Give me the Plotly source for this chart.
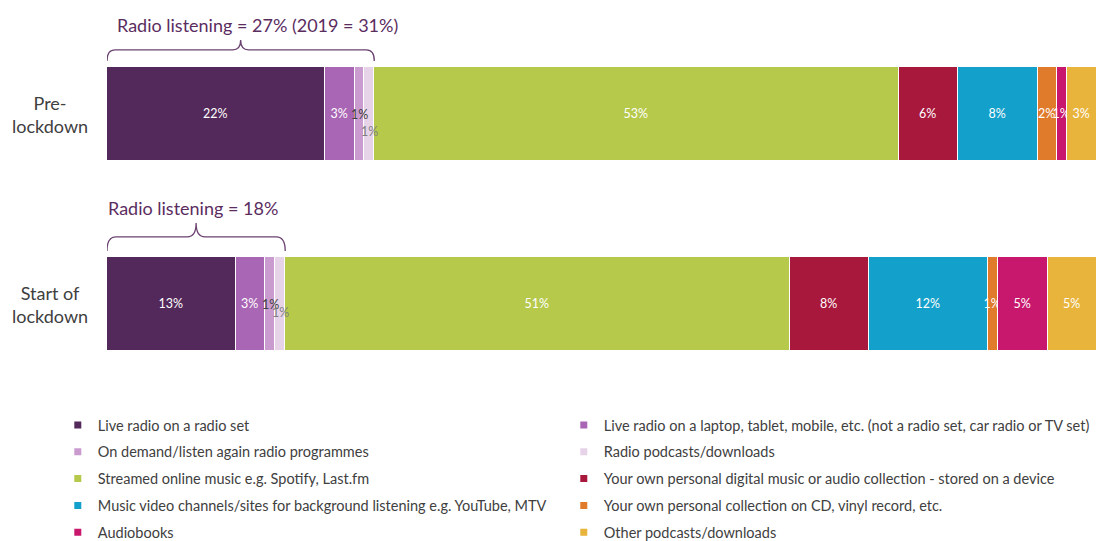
import plotly.graph_objects as go

# ---------------- data ----------------
row_labels = ["Pre-<br>lockdown", "Start of<br>lockdown"]
series = [
    "Live radio on a radio set",
    "Live radio on a laptop, tablet, mobile, etc. (not a radio set, car radio or TV set)",
    "On demand/listen again radio programmes",
    "Radio podcasts/downloads",
    "Streamed online music e.g. Spotify, Last.fm",
    "Your own personal digital music or audio collection - stored on a device",
    "Music video channels/sites for background listening e.g. YouTube, MTV",
    "Your own personal collection on CD, vinyl record, etc.",
    "Audiobooks",
    "Other podcasts/downloads",
]
pre_lockdown = [22, 3, 1, 1, 53, 6, 8, 2, 1, 3]
start_lockdown = [13, 3, 1, 1, 51, 8, 12, 1, 5, 5]
radio_titles = ["Radio listening = 27% (2019 = 31%)", "Radio listening = 18%"]
n_radio = 4  # first four series are radio

# ---------------- style ----------------
colors = ["#53295b", "#a966b5", "#c99bcf", "#e6d3e8", "#b6c94b",
          "#a8173c", "#13a0ca", "#e07b2b", "#c8186e", "#e8b43c"]
label_colors = ["white", "white", "#404040", "#7f7f7f", "white",
                "white", "white", "white", "white", "white"]
FONT = "Lato, 'Open Sans', sans-serif"
PURPLE = "#5b2d5f"
GREY = "#404040"
overlay_labels = {2: [0, 0], 3: [-17, -8]}  # series index -> vertical shift per row
title_x = [15.2, 8.7]
title_shift = [15, 15]
brace_end = [-0.279, -0.279]
brace_line = [-0.337, -0.353]
brace_cusp = [-0.389, -0.426]
brace_r = [0.8, 0.9]

rows = [0, 1]
fig = go.Figure()
for i, name in enumerate(series):
    vals = [pre_lockdown[i], start_lockdown[i]]
    fig.add_trace(go.Bar(
        x=vals, y=rows, orientation="h", name=name,
        marker=dict(color=colors[i], line=dict(color="white", width=1.5)),
        width=0.49,
        texttemplate="%{x}%",
        textposition="none" if i in overlay_labels else "inside",
        insidetextanchor="middle",
        textangle=0,
        constraintext="none",
        textfont=dict(family=FONT, size=12.5, color=label_colors[i]),
        showlegend=False,
        hoverinfo="skip",
    ))

# legend entries (small square keys, two columns)
for i, name in enumerate(series):
    fig.add_trace(go.Scatter(
        x=[None], y=[None], mode="markers", name=name,
        marker=dict(symbol="square", size=7, color=colors[i]),
        legend="legend" if i % 2 == 0 else "legend2",
        legendgroup="g%d" % i,
        hoverinfo="skip",
    ))

annotations = []
shapes = []
for r, vals in enumerate([pre_lockdown, start_lockdown]):
    # row label
    annotations.append(dict(
        xref="paper", yref="y", x=-0.0576, y=r, text=row_labels[r],
        showarrow=False, xanchor="center", yanchor="middle", align="center",
        font=dict(family=FONT, size=18, color=GREY)))
    # labels of the narrow radio segments, drawn on top of neighbours
    for i, shifts in overlay_labels.items():
        start = sum(vals[:i])
        annotations.append(dict(
            xref="x", yref="y", x=start + vals[i] / 2, y=r, text="%d%%" % vals[i],
            showarrow=False, yshift=shifts[r],
            font=dict(family=FONT, size=12.5, color=label_colors[i])))
    # brace
    x0 = 0
    x1 = sum(vals[:n_radio])
    xm = (x0 + x1) / 2
    ye, yl, yc, rr = r + brace_end[r], r + brace_line[r], r + brace_cusp[r], brace_r[r]
    path = (f"M {x0},{ye} Q {x0},{yl} {x0 + rr},{yl} L {xm - rr},{yl} "
            f"Q {xm},{yl} {xm},{yc} Q {xm},{yl} {xm + rr},{yl} "
            f"L {x1 - rr},{yl} Q {x1},{yl} {x1},{ye}")
    shapes.append(dict(type="path", xref="x", yref="y", path=path,
                       line=dict(color="#6b4270", width=1.3)))
    annotations.append(dict(
        xref="x", yref="y", x=title_x[r], y=r + brace_cusp[r], yshift=title_shift[r],
        text=radio_titles[r], showarrow=False, xanchor="center", yanchor="middle",
        font=dict(family=FONT, size=18, color=PURPLE)))

legend_common = dict(orientation="v", xanchor="left", y=-0.0263, yanchor="top",
                     traceorder="grouped", tracegroupgap=5,
                     font=dict(family=FONT, size=14.5, color=GREY),
                     bgcolor="rgba(0,0,0,0)")

fig.update_layout(
    width=1098, height=541,
    margin=dict(l=107, r=1, t=19, b=142, autoexpand=False),
    plot_bgcolor="white", paper_bgcolor="white",
    barmode="stack",
    bargap=0,
    xaxis=dict(range=[0, 100], visible=False, fixedrange=True),
    yaxis=dict(range=[1.5, -0.5], visible=False, fixedrange=True),
    annotations=annotations,
    shapes=shapes,
    showlegend=True,
    legend=dict(x=-0.0497, **legend_common),
    legend2=dict(x=0.4614, **legend_common),
    font=dict(family=FONT),
)

fig.write_html(
    "out.html",
    config={"displayModeBar": False},
    post_script="document.body.style.margin='0';document.body.style.overflow='hidden';",
)
